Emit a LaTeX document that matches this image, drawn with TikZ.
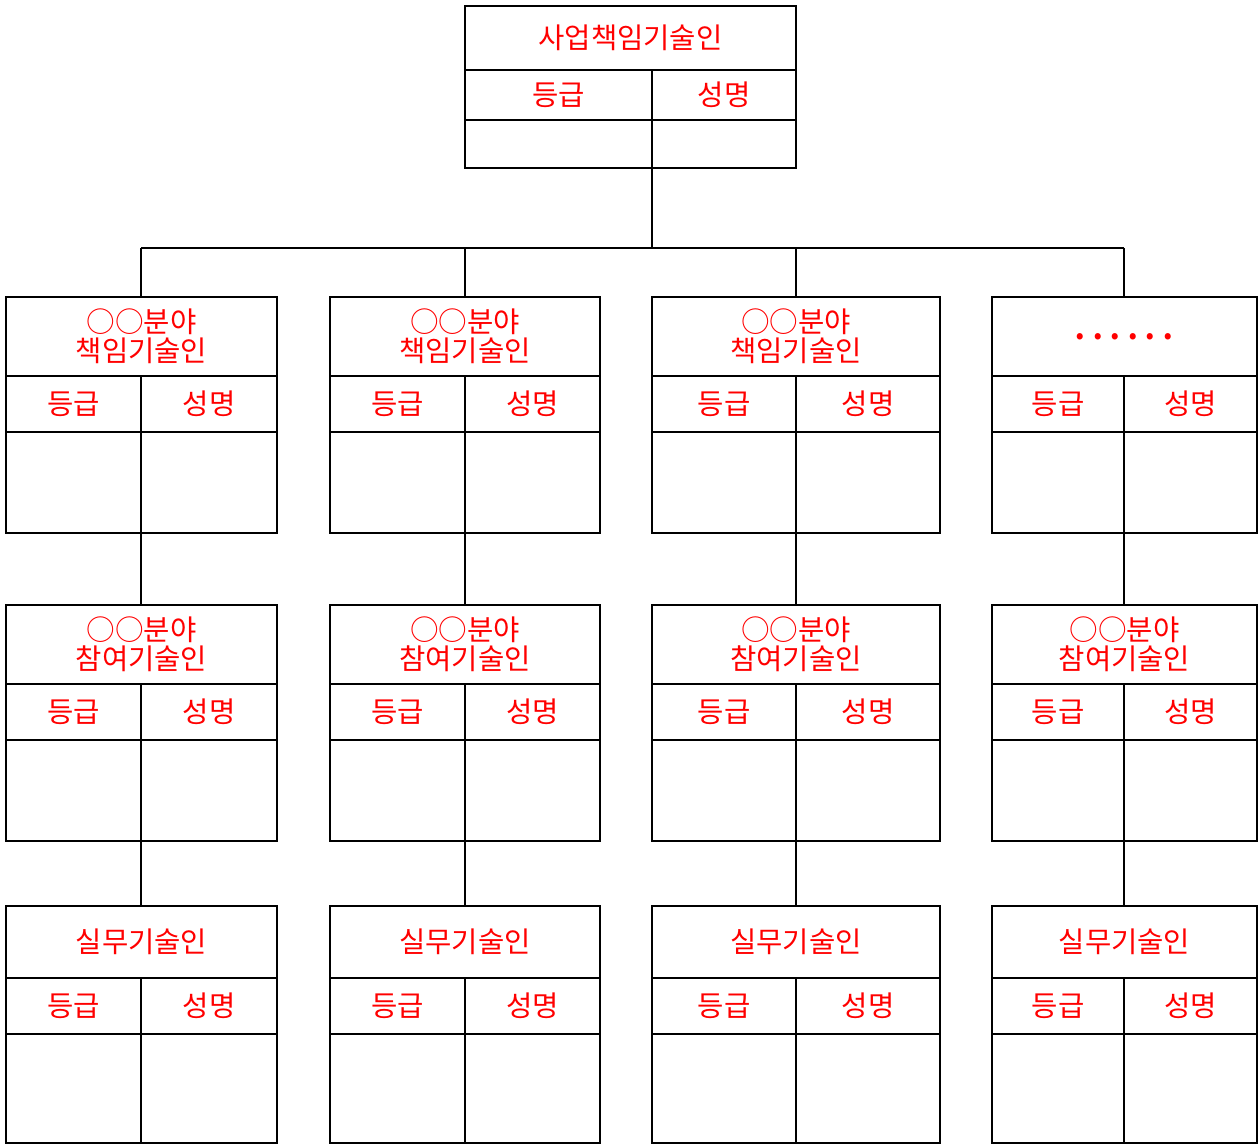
\documentclass[tikz,border=0pt]{standalone}
\usepackage{fontspec}
\setmainfont{Noto Sans CJK KR}
\tikzset{
  cell/.style={draw=black, line width=0.7pt, inner sep=0pt, outer sep=0pt,
    anchor=north west, text=red, font=\fontsize{14.3pt}{14.6pt}\selectfont, align=center},
  link/.style={draw=black, line width=0.55pt}
}
\newcommand\obox[9]{%
  \node[cell, minimum width={0.5pt*(#4-#2)}, minimum height={0.5pt*(#6-#5)}] (#1t) at (#2,#5) {#9};
  \node[cell, minimum width={0.5pt*(#3-#2)}, minimum height={0.5pt*(#7-#6)}] (#1g) at (#2,#6) {등급};
  \node[cell, minimum width={0.5pt*(#4-#3)}, minimum height={0.5pt*(#7-#6)}] (#1n) at (#3,#6) {성명};
  \node[cell, minimum width={0.5pt*(#3-#2)}, minimum height={0.5pt*(#8-#7)}] (#1a) at (#2,#7) {};
  \node[cell, minimum width={0.5pt*(#4-#3)}, minimum height={0.5pt*(#8-#7)}] (#1b) at (#3,#7) {};
}
\newcommand\dd{\makebox[8.75pt]{\fontsize{23pt}{23pt}\selectfont ·}}
\begin{document}
\begin{tikzpicture}[x=0.5pt, y=-0.5pt]
\useasboundingbox (0,0) rectangle (1258,1144);
% top
\obox{T}{465}{652}{796}{6}{70}{120}{168}{사업책임기술인}
% row 1
\obox{Aa}{6}{141}{277}{297}{376}{432}{533}{○○분야\\책임기술인}
\obox{Ba}{330}{465}{600}{297}{376}{432}{533}{○○분야\\책임기술인}
\obox{Ca}{652}{796}{940}{297}{376}{432}{533}{○○분야\\책임기술인}
\obox{Da}{992}{1124}{1257}{297}{376}{432}{533}{\smash{\raisebox{-8.5pt}{\dd\dd\dd\dd\dd\dd}}}
% row 2
\obox{Ab}{6}{141}{277}{605}{684}{740}{841}{○○분야\\참여기술인}
\obox{Bb}{330}{465}{600}{605}{684}{740}{841}{○○분야\\참여기술인}
\obox{Cb}{652}{796}{940}{605}{684}{740}{841}{○○분야\\참여기술인}
\obox{Db}{992}{1124}{1257}{605}{684}{740}{841}{○○분야\\참여기술인}
% row 3
\obox{Ac}{6}{141}{277}{906}{978}{1034}{1143}{실무기술인}
\obox{Bc}{330}{465}{600}{906}{978}{1034}{1143}{실무기술인}
\obox{Cc}{652}{796}{940}{906}{978}{1034}{1143}{실무기술인}
\obox{Dc}{992}{1124}{1257}{906}{978}{1034}{1143}{실무기술인}
% connectors
\coordinate (busL) at (141,248);
\coordinate (busR) at (1124,248);
\draw[link] (Ta.south east) -- (Ta.south east |- busL);
\draw[link] (busL) -- (busR);
\foreach \c in {A,B,C,D}{
  \draw[link] (\c ag.north east |- busL) -- (\c ag.north east |- \c at.north);
  \draw[link] (\c aa.south east) -- (\c aa.south east |- \c bt.north);
  \draw[link] (\c ba.south east) -- (\c ba.south east |- \c ct.north);
}
\end{tikzpicture}
\end{document}
